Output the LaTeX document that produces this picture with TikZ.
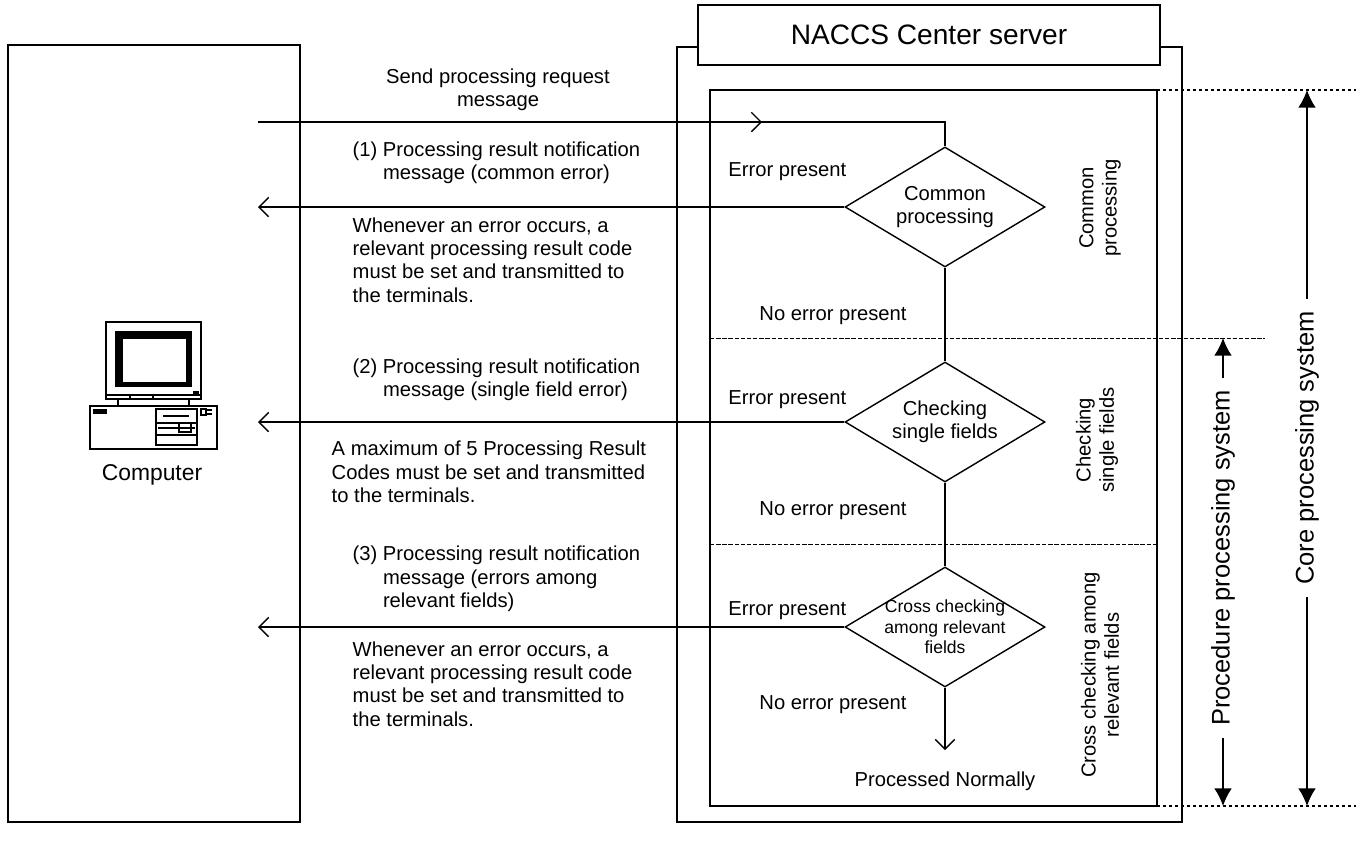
\documentclass[tikz,border=0pt]{standalone}
\usepackage{fontspec}
\setmainfont{Liberation Sans}
\usetikzlibrary{shapes.geometric,arrows.meta}

\begin{document}
\begin{tikzpicture}[x=0.02cm,y=-0.02cm,line width=0.8pt,
  box/.style={draw,line width=0.9pt},
  dia/.style={diamond,draw,line width=0.8pt,minimum width=4cm,minimum height=2.4cm,inner sep=0pt},
  txt/.style={font=\fontsize{11.5}{13.3}\selectfont,align=left,inner sep=0pt},
  ctxt/.style={txt,align=center},
  small/.style={font=\fontsize{10}{11.6}\selectfont,align=center,inner sep=0pt},
  side/.style={txt,align=center,rotate=90},
  flow/.style={-{Straight Barb[length=5.5pt,width=11pt]}},
  span/.style={{Latex[length=10pt,width=10pt]}-{Latex[length=10pt,width=10pt]}},
  sysname/.style={font=\fontsize{14.5}{17}\selectfont,rotate=90,fill=white,inner xsep=7pt,inner ysep=2pt},
  sep/.style={line width=0.5pt,dash pattern=on 2.5pt off 1pt},
  dots/.style={line width=0.8pt,dash pattern=on 1.7pt off 1.7pt}]
  \useasboundingbox (0,0) rectangle (1356,850);

  % boxes
  \draw[box] (8,45) rectangle (300,822);
  \draw[box] (677,47) rectangle (1182,822);
  \node[box,fill=white,minimum width=9.24cm,minimum height=1.2cm,font=\fontsize{16}{19}\selectfont] (server) at (929,35) {NACCS Center server};
  \draw[line width=0.6pt] (710,90) rectangle (1157,806);

  % computer
  \draw[line width=0.9pt] (106,322) rectangle (201,399);
  \draw[line width=0.6pt] (106,395) -- (201,395) (130,395) -- (130,399) (153,395) -- (153,399);
  \fill (115,331) rectangle (192,387);
  \filldraw[fill=white,line width=0.4pt] (122,338) rectangle (186,382);
  \fill (193,391) rectangle (199,394);
  \draw (118,399) -- (118,406) (189,399) -- (189,406);
  \draw[line width=0.9pt] (90,406) rectangle (217,449);
  \fill (93,409) rectangle (107,414);
  \draw[line width=0.6pt] (156,409) rectangle (197,445);
  \draw[line width=0.6pt] (156,423) -- (197,423) (156,435) -- (197,435) (158,428) -- (195,428);
  \draw[line width=1.5pt] (163,416) -- (189,416);
  \draw[line width=0.6pt] (179,423) rectangle (191,432);
  \draw[line width=0.6pt] (201,409) rectangle (206,415);
  \fill (207,409) rectangle (212,411);
  \fill (207,413) rectangle (212,415);
  \node[font=\fontsize{13}{15}\selectfont] (pc) at (152,475) {Computer};

  % flow
  \node[dia] (d1) at (945,207) {};
  \node[dia] (d2) at (945,422) {};
  \node[dia] (d3) at (945,627) {};
  \node[ctxt] (t1) at (d1) {Common\\processing};
  \node[ctxt] (t2) at (d2) {Checking\\single fields};
  \node[small] (t3) at (d3) {Cross checking\\among relevant\\fields};
  \coordinate (term) at (258,122);
  \coordinate (reqtip) at (762,122);
  \coordinate (end) at (945,750);
  \node[txt] (done) at (945,781) {Processed Normally};

  \draw (term) -- (term -| d1) -- (d1.north);
  \draw[flow] (term) -- (reqtip);
  \draw (d1.south) -- (d2.north);
  \draw (d2.south) -- (d3.north);
  \draw[flow] (d3.south) -- (end);
  \draw[flow] (d1.west) -- (d1.west -| term);
  \draw[flow] (d2.west) -- (d2.west -| term);
  \draw[flow] (d3.west) -- (d3.west -| term);

  \node[txt,anchor=east] (e1) at (847,172) {Error present};
  \node[txt,anchor=east] (e2) at (847,400) {Error present};
  \node[txt,anchor=east] (e3) at (847,611) {Error present};
  \node[txt] (n1) at (833,316) {No error present};
  \node[txt] (n2) at (833,511) {No error present};
  \node[txt] (n3) at (833,705) {No error present};

  % messages
  \node[ctxt] (send) at (498,90) {Send processing request\\message};
  \node[txt,anchor=west] (m1) at (352,163) {(1) Processing result notification\\\hphantom{(1) }message (common error)};
  \node[txt,anchor=west] (w1) at (352,260) {Whenever an error occurs, a\\relevant processing result code\\must be set and transmitted to\\the terminals.};
  \node[txt,anchor=west] (m2) at (352,380) {(2) Processing result notification\\\hphantom{(2) }message (single field error)};
  \node[txt,anchor=west] (w2) at (331,472) {A maximum of 5 Processing Result\\Codes must be set and transmitted\\to the terminals.};
  \node[txt,anchor=west] (m3) at (352,579) {(3) Processing result notification\\\hphantom{(3) }message (errors among\\\hphantom{(3) }relevant fields)};
  \node[txt,anchor=west] (w3) at (352,684) {Whenever an error occurs, a\\relevant processing result code\\must be set and transmitted to\\the terminals.};

  % stages
  \draw[sep] (710,338) -- (1265,338);
  \draw[sep] (710,544) -- (1157,544);
  \node[side] (s1) at (1100,208) {Common\\processing};
  \node[side] (s2) at (1097,440) {Checking\\single fields};
  \node[side] (s3) at (1100,675) {Cross checking among\\relevant fields};

  % systems
  \coordinate (topR) at (1356,90);
  \coordinate (botR) at (1356,806);
  \draw[dots] (1157,90) -- (topR);
  \draw[dots] (1157,806) -- (botR);
  \coordinate (coreT) at (1307,90);
  \coordinate (coreB) at (1307,806);
  \coordinate (procT) at (1223,338);
  \coordinate (procB) at (1223,806);
  \draw[span] (coreT) -- (coreB) node[midway,sysname] (core) {Core processing system};
  \draw[span] (procT) -- (procB) node[pos=0.47,sysname] (proc) {Procedure processing system};
\end{tikzpicture}
\end{document}
